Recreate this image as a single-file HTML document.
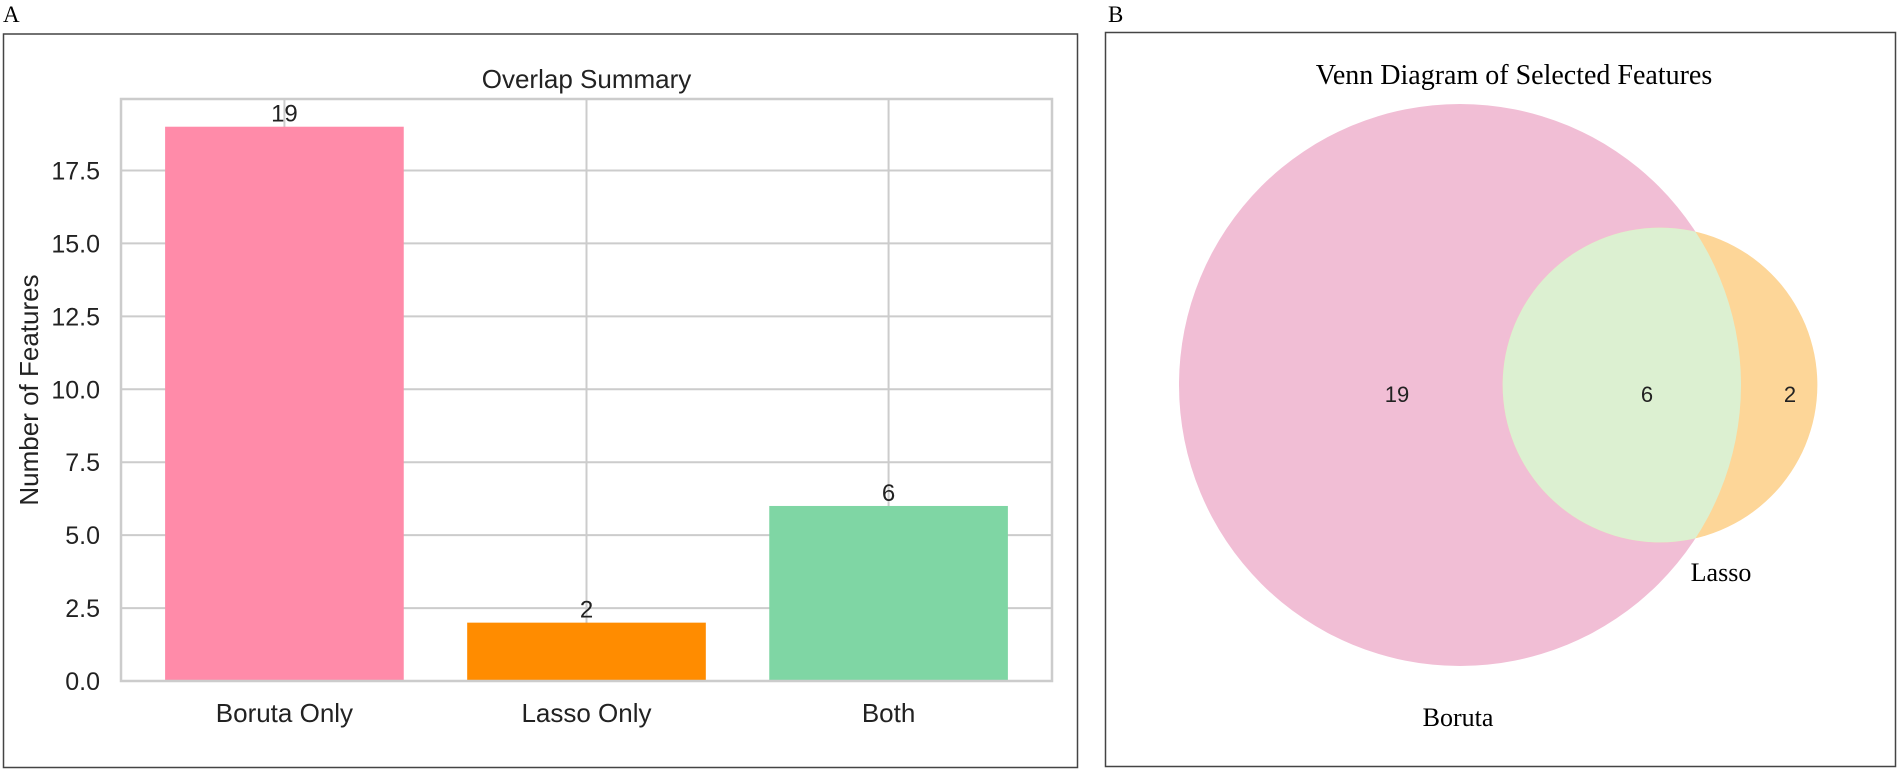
<!DOCTYPE html>
<html><head><meta charset="utf-8"><style>
html,body{margin:0;padding:0;background:#fff;}
svg{display:block;}
</style></head><body>
<svg id="fig" width="1900" height="772" xmlns="http://www.w3.org/2000/svg">
<text x="3" y="22" font-family="Liberation Serif, serif" font-size="23" fill="#000">A</text>
<text x="1108" y="22" font-family="Liberation Serif, serif" font-size="23" fill="#000">B</text>
<rect x="3.5" y="34" width="1074" height="733.5" fill="none" stroke="#444" stroke-width="1.5"/>
<rect x="1105.5" y="32.5" width="790" height="734" fill="none" stroke="#444" stroke-width="1.5"/>
<g id="barchart"></g>
<g id="venn"></g>
</svg>
<script>
const categories = ["Boruta Only", "Lasso Only", "Both"];
const counts = [19, 2, 6];
const barColors = ["#ff8ba9", "#ff8c00", "#7fd6a4"];
const yTicks = [0, 2.5, 5, 7.5, 10, 12.5, 15, 17.5];
const vennCounts = [19, 6, 2];
const setSizes = [25, 8];

const NS = "http://www.w3.org/2000/svg";
function mk(tag, attrs, parent){const e=document.createElementNS(NS,tag);for(const k in attrs)e.setAttribute(k,attrs[k]);parent.appendChild(e);return e;}

// Bar chart
const g = document.getElementById('barchart');
const L=121, R=1052, T=99, B=681;
const yMax = Math.max(...counts)*1.05;
const y = v => B - v/yMax*(B-T);
const unit = (R-L)/(categories.length-1+1.082);
const x = i => L + unit*0.541 + i*unit;
const sans = "Liberation Sans, sans-serif";
yTicks.forEach(t=>{
  const ln=mk('line',{x1:L,x2:R,y1:y(t),y2:y(t),stroke:'#cccccc','stroke-width':2},g);
  
  const tx=mk('text',{x:L-21,y:y(t)+9,'text-anchor':'end','font-family':sans,'font-size':25,fill:'#222'},g);
  tx.textContent=t.toFixed(1);
  
});
categories.forEach((c,i)=>{
  const ln=mk('line',{x1:x(i),x2:x(i),y1:T,y2:B,stroke:'#cccccc','stroke-width':2},g);
  
});
categories.forEach((c,i)=>{
  const w=unit*0.79;
  const r=mk('rect',{x:x(i)-w/2,y:y(counts[i]),width:w,height:B-y(counts[i]),fill:barColors[i]},g);
  
  const v=mk('text',{x:x(i),y:y(counts[i])-5,'text-anchor':'middle','font-family':sans,'font-size':24,fill:'#222'},g);
  v.textContent=counts[i];
  
  const lb=mk('text',{x:x(i),y:722,'text-anchor':'middle','font-family':sans,'font-size':26,fill:'#222'},g);
  lb.textContent=c;
  
});
const fr=mk('rect',{x:L,y:T,width:R-L,height:B-T,fill:'none',stroke:'#cccccc','stroke-width':2.5},g);

const ttl=mk('text',{x:(L+R)/2,y:88,'text-anchor':'middle','font-family':sans,'font-size':26,fill:'#222'},g);
ttl.textContent='Overlap Summary';

const yl=mk('text',{x:0,y:0,transform:'translate(38,'+((T+B)/2)+') rotate(-90)','text-anchor':'middle','font-family':sans,'font-size':26,fill:'#222'},g);
yl.textContent='Number of Features';


// Venn
const v = document.getElementById('venn');
const serif = "Liberation Serif, serif";
const scale = 281/Math.sqrt(setSizes[0]);
const rA = scale*Math.sqrt(setSizes[0]), rB = scale*Math.sqrt(setSizes[1])*0.99;
const cA=[1460,385], cB=[1660,385];
const defs=mk('defs',{},v);
const cp=mk('clipPath',{id:'clipA'},defs);
mk('circle',{cx:cA[0],cy:cA[1],r:rA},cp);
const a=mk('circle',{cx:cA[0],cy:cA[1],r:rA,fill:'#f1bed5'},v);

const b=mk('circle',{cx:cB[0],cy:cB[1],r:rB,fill:'#fdd698'},v);

const ov=mk('circle',{cx:cB[0],cy:cB[1],r:rB,fill:'#dcf0d1','clip-path':'url(#clipA)'},v);

const vpos=[[1397,402],[1647,402],[1790,402]];
const vnames=['boruta-only-count','overlap-count','lasso-only-count'];
vennCounts.forEach((n,i)=>{
  const t=mk('text',{x:vpos[i][0],y:vpos[i][1],'text-anchor':'middle','font-family':sans,'font-size':22,fill:'#222'},v);
  t.textContent=n;
  
});
const vt=mk('text',{x:1514,y:84,'text-anchor':'middle','font-family':serif,'font-size':28,fill:'#000'},v);
vt.textContent='Venn Diagram of Selected Features';

const la=mk('text',{x:1721,y:581,'text-anchor':'middle','font-family':serif,'font-size':26,fill:'#000'},v);
la.textContent='Lasso';

const ba=mk('text',{x:1458,y:726,'text-anchor':'middle','font-family':serif,'font-size':26,fill:'#000'},v);
ba.textContent='Boruta';

</script>
</body></html>
